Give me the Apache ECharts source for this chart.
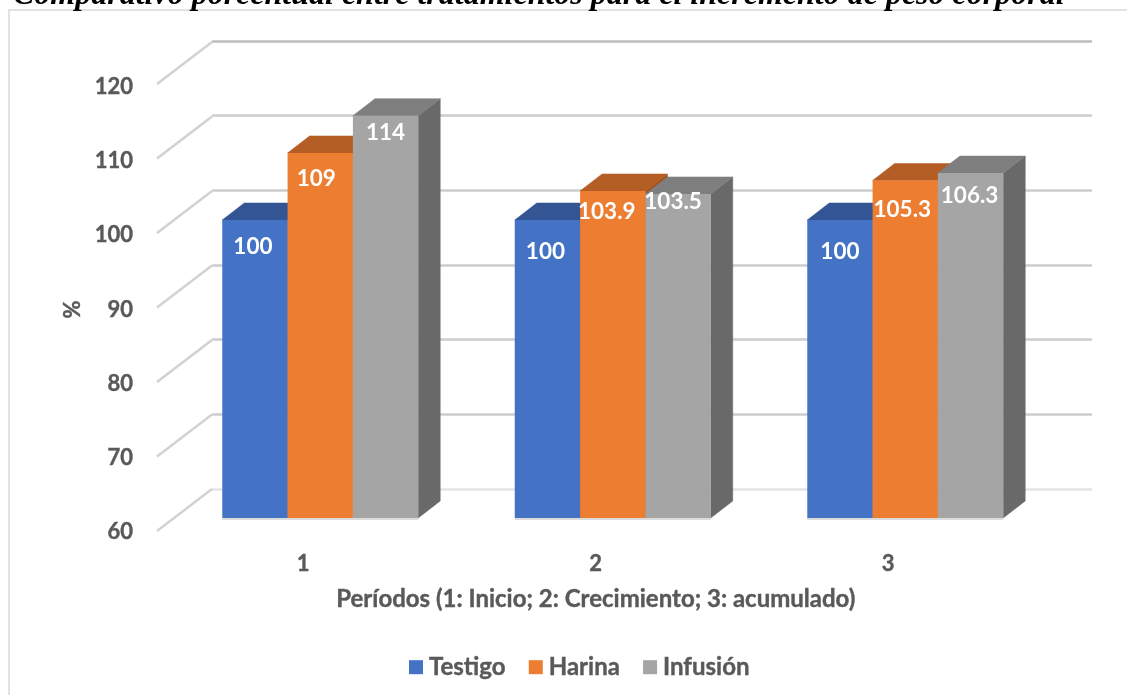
<!DOCTYPE html>
<html><head><meta charset="utf-8">
<style>html,body{margin:0;padding:0;background:#fff}#c{width:1127px;height:695px}</style>
<script src="https://cdn.jsdelivr.net/npm/echarts@6/dist/echarts.min.js"></script>
</head><body><div id="c"></div>
<script>
const periods = ['1','2','3'];
const testigo = [100,100,100];
const harina = [109,103.9,105.3];
const infusion = [114,103.5,106.3];
const valueTicks = [60,70,80,90,100,110,120];
const seriesNames = ['Testigo','Harina','Infusión'];

const faces = [
  {front:'#4472C4',top:'#335593',side:'#2F5090'},
  {front:'#ED7D31',top:'#B45D24',side:'#A64F14'},
  {front:'#A5A5A5',top:'#7E7E7E',side:'#696969'}
];
// label nudges relative to the default label anchor, per series then per period
const labelNudge = [
  [[-2,27],[-2,32],[0,32]],
  [[-4,26],[-6,21],[-3,29]],
  [[0,17],[-5,8],[-1,23]]
];
const wallDx=55, wallDy=-42, barDx=17, barDy=-13, depthDx=22, depthDy=-17, groupFill=0.67;
const labelFont='Lato, Carlito, sans-serif', grey='#595959';
const boldText=(size)=>({fontFamily:labelFont,fontWeight:'bold',fontSize:size,color:grey,textBorderColor:grey,textBorderWidth:0.4});

function barRender(si){
  return function(params, api){
    const ci=api.value(0), v=api.value(1);
    const step=api.size([1,0])[0], w=step*groupFill/3;
    const c=api.coord([ci,v]), b=api.coord([ci,60]);
    const x0=c[0]-1.5*w+si*w+barDx, x1=x0+w, y0=c[1]+barDy, y1=b[1]+barDy;
    const f=faces[si], n=labelNudge[si][ci];
    const poly=(pts,fill)=>({type:'polygon',shape:{points:pts},style:{fill:fill,stroke:fill,lineWidth:0.5}});
    const ch=[];
    ch.push({type:'rect',shape:{x:x0,y:y1,width:w,height:2},style:{fill:'#dcdcdc'}});
    ch.push(poly([[x1,y0],[x1+depthDx,y0+depthDy],[x1+depthDx,y1+depthDy],[x1,y1]],f.side));
    ch.push(poly([[x0,y0],[x0+depthDx,y0+depthDy],[x1+depthDx,y0+depthDy],[x1,y0]],f.top));
    ch.push({type:'rect',shape:{x:x0,y:y0,width:w,height:y1-y0},style:{fill:f.front}});
    ch.push({type:'text',z2:10,style:{text:String(v),x:x0+w/2+n[0],y:y0+n[1],align:'center',verticalAlign:'middle',
      fill:'#fff',font:'bold 22.5px '+labelFont}});
    return {type:'group',children:ch};
  };
}
function wallRender(params, api){
  const p=api.coord([0,api.value(0)]);
  const x0=api.coord([0,60])[0]-api.size([1,0])[0]/2;
  return {type:'line',shape:{x1:x0,y1:p[1],x2:x0+wallDx,y2:p[1]+wallDy},style:{stroke:'#d2d2d2',lineWidth:2.5}};
}
const vals=[testigo,harina,infusion];
const chart=echarts.init(document.getElementById('c'),null,{renderer:'canvas'});
chart.setOption({
  animation:false,
  backgroundColor:'#fff',
  title:{text:'Comparativo porcentual entre tratamientos para el incremento de peso corporal',left:8,top:-25,
    textStyle:{fontFamily:'"Liberation Serif",serif',fontStyle:'italic',fontWeight:'bold',fontSize:32,color:'#000'}},
  graphic:[{type:'rect',z:-1,shape:{x:9,y:10,width:1300,height:900},style:{fill:'#fff',stroke:'#d9d9d9',lineWidth:1.5}}],
  legend:{left:404,top:650,icon:'rect',itemWidth:14,itemHeight:14,itemGap:23,data:seriesNames,
    textStyle:Object.assign(boldText(24),{padding:[0,0,0,1]})},
  grid:[
    {left:157,top:84,width:877.5,height:447},
    {left:212,top:41,width:880,height:448},
    {left:157,top:87,width:877.5,height:445}
  ],
  xAxis:[
    {type:'category',gridIndex:0,data:periods,axisLine:{show:false},axisTick:{show:false},
     axisLabel:Object.assign(boldText(22),{margin:22}),
     name:'Períodos (1: Inicio; 2: Crecimiento; 3: acumulado)',nameLocation:'middle',nameGap:56,
     nameTextStyle:boldText(24)},
    {type:'value',gridIndex:1,min:0,max:1,show:false},
    {type:'value',gridIndex:2,min:0,max:1,show:false}
  ],
  yAxis:[
    {type:'value',gridIndex:0,min:60,max:120,interval:10,show:false},
    {type:'value',gridIndex:1,min:60,max:120,interval:10,axisLine:{show:false},axisTick:{show:false},axisLabel:{show:false},
     splitLine:{show:true,lineStyle:{width:2.5,color:['#e4e4e4','#cdcdcd','#cdcdcd','#cdcdcd','#cdcdcd','#cdcdcd','#bdbdbd']}}},
    {type:'value',gridIndex:2,min:60,max:120,interval:10,axisLine:{show:false},axisTick:{show:false},splitLine:{show:false},
     axisLabel:Object.assign(boldText(22),{margin:24}),
     name:'%',nameLocation:'middle',nameGap:72,nameRotate:90,nameTextStyle:boldText(22)}
  ],
  series:[
    {type:'custom',name:'wall',xAxisIndex:0,yAxisIndex:0,data:valueTicks.map(v=>[v]),encode:{y:0},renderItem:wallRender,silent:true,z:1,clip:false},
    ...seriesNames.map((n,si)=>({type:'custom',name:n,xAxisIndex:0,yAxisIndex:0,z:2+si,clip:false,
      itemStyle:{color:faces[si].front},encode:{x:0,y:1},
      data:periods.map((p,i)=>[i,vals[si][i]]),renderItem:barRender(si)}))
  ]
});
</script></body></html>
